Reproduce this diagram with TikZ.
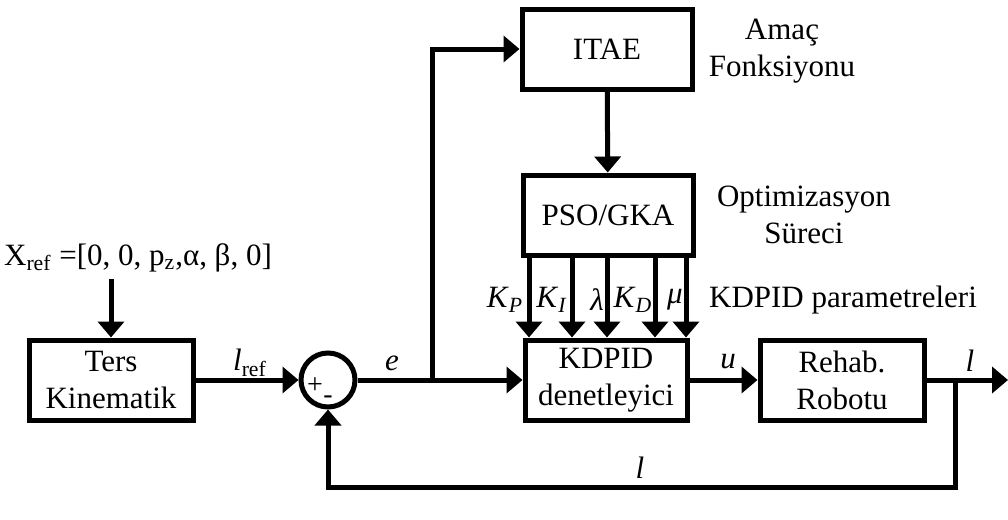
\documentclass[tikz,border=0pt]{standalone}
\usepackage{fontspec}
\setmainfont{Liberation Serif}
\usetikzlibrary{arrows.meta}
\tikzset{
  blok/.style={draw, line width=2.5pt, minimum height=40pt, align=center, inner sep=1pt},
  hat/.style={line width=2.5pt},
  ok/.style={-{Triangle[width=13pt,length=8pt]}},
}
\begin{document}
\begin{tikzpicture}[x=0.5pt, y=-0.5pt, font=\fontsize{15.5}{18.5}\selectfont]
            \useasboundingbox (0,0) rectangle (1008,520);
            % bloklar
            \node[blok, minimum width=85pt] (itae) at (607,49) {ITAE};
            \node[blok, minimum width=85pt] (pso) at (608,215) {PSO/GKA};
            \node[blok, minimum width=81pt] (kdpid) at (606,380) {KDPID\\denetleyici};
            \node[blok, minimum width=82pt] (ters) at (111,380) {Ters\\Kinematik};
            \node[blok, minimum width=82pt] (robot) at (842,380) {Rehab.\\Robotu};
            \node[draw, circle, line width=2.5pt, minimum size=27pt, inner sep=0pt] (top) at (328,380) {};
            \node[font=\fontsize{14}{14}\selectfont] (arti) at (315,386) {+};
            \node[font=\fontsize{14}{14}\selectfont] (eksi) at (328,400) {-};
            % yazilar
            \node (xref) at (138,258) {X\textsubscript{ref} =[0, 0, p\textsubscript{z},α, β, 0]};
            \node[align=center] (amac) at (782,51) {Amaç\\Fonksiyonu};
            \node[align=center] (opt) at (804,215) {Optimizasyon\\Süreci};
            \node (param) at (843,300) {KDPID parametreleri};
            \node (lref) at (250,363) {\textit{l}\textsubscript{ref}};
            \node (e) at (392,363) {\textit{e}};
            \node (u) at (728,362) {\textit{u}};
            \node (lcik) at (970,361) {\textit{l}};
            \node (lgeri) at (640,468) {\textit{l}};
            % baglantilar
            \coordinate (dal) at (432,380);
            \coordinate (dal2) at (955,380);
            \coordinate (cikis) at (1008,380);
            \coordinate (geri) at (955,487);
            \draw[hat, ok] (xref.south -| ters.north) -- (ters.north);
            \draw[hat, ok] (ters) -- (top);
            \draw[hat] (top) -- (dal);
            \draw[hat, ok] (dal) -- (kdpid);
            \draw[hat, ok] (dal) |- (itae);
            \draw[hat, ok] (itae) -- (pso);
            \draw[hat, ok] (kdpid) -- (robot);
            \draw[hat, ok] (robot) -- (cikis);
            \draw[hat, ok] (dal2) -- (geri) -| (top);
            \foreach \x/\lab/\lx in {529/{\textit{K}\textsubscript{\textit{P}}}/505,
                                     572/{\textit{K}\textsubscript{\textit{I}}}/552,
                                     607/{\textit{λ}}/597,
                                     655/{\textit{K}\textsubscript{\textit{D}}}/633,
                                     686/{\textit{μ}}/675}
            {
                \draw[hat, ok] (\x,0 |- pso.south) -- (\x,0 |- kdpid.north);
                \node at (\lx,300) {\lab};
            }
        \end{tikzpicture}
\end{document}
